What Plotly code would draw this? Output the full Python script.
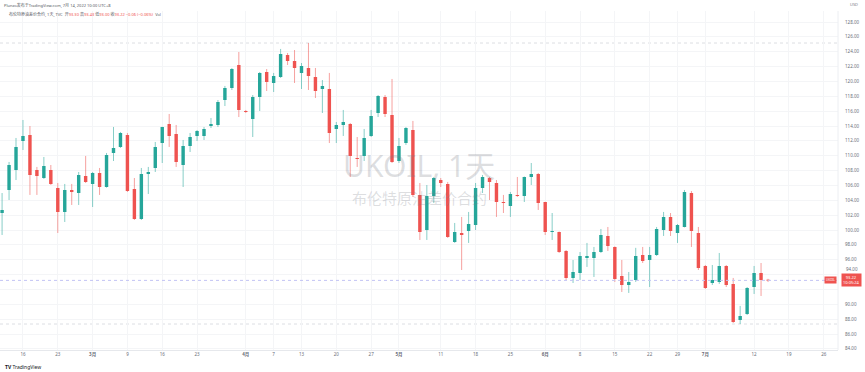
import plotly.graph_objects as go

# ---------------- data ----------------
opens = [102.29, 105.39, 108.08, 111.98, 112.79, 108.08, 107.00, 108.08, 105.66, 102.43,
         105.39, 104.98, 107.27, 106.20, 107.68, 105.79, 110.37, 111.18, 112.79, 105.52,
         101.49, 107.54, 108.35, 111.71, 114.27, 112.93, 108.75, 111.31, 112.66, 112.66,
         114.00, 114.14, 117.50, 119.12, 122.21, 116.02, 114.94, 117.91, 121.27, 119.79,
         120.60, 123.56, 122.75, 121.14, 121.81, 120.60, 118.98, 118.98, 113.60, 114.14,
         114.27, 109.70, 109.97, 112.66, 115.75, 117.91, 115.48, 109.29, 111.71, 113.46,
         104.72, 100.00, 104.58, 106.73, 106.20, 98.39, 99.60, 99.87, 100.68, 105.66,
         107.00, 106.33, 103.77, 103.24, 104.72, 104.58, 107.14, 107.54, 103.77, 99.74,
         99.74, 97.18, 93.55, 94.22, 96.24, 96.24, 97.04, 99.20, 97.72, 93.81,
         92.60, 93.28, 96.64, 95.97, 96.64, 100.00, 101.76, 99.60, 100.41, 104.98,
         99.60, 95.16, 92.87, 93.01, 95.16, 92.74, 87.89, 88.70, 92.33, 94.22,
         93.30]
highs = [104.98, 109.16, 112.39, 114.81, 114.00, 108.49, 109.83, 108.75, 106.33, 106.20,
         106.20, 107.81, 109.97, 107.81, 108.35, 110.37, 113.87, 113.20, 113.06, 107.00,
         108.35, 108.49, 111.85, 113.90, 115.62, 114.14, 112.12, 113.06, 113.46, 113.87,
         115.08, 117.50, 119.39, 121.81, 123.96, 116.16, 118.17, 121.27, 121.67, 121.14,
         124.37, 123.83, 124.23, 122.48, 125.17, 121.81, 120.19, 121.14, 114.54, 116.16,
         114.41, 112.52, 113.60, 116.16, 118.17, 118.17, 120.33, 112.39, 113.87, 114.68,
         106.33, 106.06, 107.14, 107.00, 106.47, 100.95, 101.76, 102.43, 106.33, 107.41,
         107.14, 106.73, 104.72, 105.12, 107.14, 107.20, 109.02, 107.68, 103.80, 102.29,
         99.80, 97.31, 95.97, 97.04, 98.26, 97.72, 100.14, 100.41, 97.80, 95.97,
         94.35, 97.60, 97.72, 97.72, 100.41, 102.43, 102.29, 100.81, 105.39, 105.25,
         100.41, 95.29, 95.29, 96.91, 95.29, 93.55, 89.78, 92.33, 95.16, 95.56,
         93.43]
lows = [99.33, 104.04, 106.73, 110.77, 104.72, 104.72, 106.87, 106.06, 99.60, 101.08,
        103.37, 103.37, 106.33, 103.10, 104.72, 105.70, 109.29, 111.04, 105.12, 101.35,
        101.35, 104.85, 107.81, 109.02, 111.18, 108.49, 105.79, 110.50, 111.98, 112.12,
        113.73, 113.87, 116.69, 118.85, 115.21, 115.75, 112.52, 116.02, 118.71, 118.58,
        120.46, 122.21, 119.79, 118.98, 118.85, 117.77, 115.75, 111.71, 111.71, 112.66,
        107.14, 108.49, 109.29, 112.52, 115.21, 115.21, 109.02, 109.02, 111.45, 104.45,
        98.66, 98.66, 103.64, 105.79, 98.93, 98.26, 94.62, 98.26, 100.00, 104.98,
        104.04, 101.76, 102.29, 101.76, 104.45, 103.77, 106.06, 102.70, 99.33, 98.66,
        96.91, 93.28, 92.87, 93.28, 95.03, 93.68, 96.91, 97.18, 93.01, 91.66,
        91.53, 93.01, 95.56, 92.33, 96.51, 99.20, 99.20, 98.26, 100.35, 97.72,
        94.62, 92.06, 92.60, 92.74, 92.33, 87.49, 87.35, 88.56, 91.39, 91.12,
        93.00]
closes = [102.70, 108.75, 111.18, 112.66, 107.41, 107.27, 108.62, 106.20, 102.43, 105.39,
          105.12, 107.41, 106.47, 107.68, 105.79, 110.10, 111.04, 113.06, 105.25, 101.49,
          107.54, 107.81, 111.18, 113.87, 112.66, 109.16, 111.31, 112.52, 113.33, 113.60,
          114.27, 117.23, 119.12, 121.67, 116.16, 115.89, 117.91, 121.14, 119.92, 120.73,
          123.69, 122.75, 121.81, 122.08, 120.73, 118.71, 119.39, 113.06, 114.14, 114.54,
          109.97, 109.56, 112.39, 115.35, 118.04, 115.62, 109.16, 111.31, 113.73, 104.72,
          99.74, 104.58, 107.00, 106.33, 99.06, 99.74, 99.33, 100.81, 105.66, 107.14,
          106.47, 103.77, 103.64, 104.85, 104.58, 107.14, 107.54, 103.64, 99.74, 99.87,
          97.04, 93.55, 94.35, 96.51, 96.51, 97.04, 99.33, 97.85, 93.41, 92.60,
          93.01, 96.51, 95.83, 96.64, 100.14, 101.76, 99.87, 100.68, 105.12, 99.87,
          94.89, 92.20, 93.28, 95.16, 92.60, 87.62, 88.43, 92.20, 94.22, 93.28,
          93.22]

# date-axis labels (candle index where each label sits)
date_tick_idx = [3, 8, 13, 18, 23, 28, 35, 39, 43, 48, 53, 57, 63, 68, 73, 78, 83, 88, 93, 97, 101, 108, 113, 118]
date_tick_text = ["16", "23", "3月", "9", "16", "23", "4月", "7", "13", "20", "27", "5月",
                  "11", "18", "25", "6月", "8", "15", "22", "29", "7月", "12", "19", "26"]
price_ticks = list(range(84, 129, 2))
hidden_price_ticks = [92, 94]   # covered by the last-price label on the scale

UP = "#26a69a"
DOWN = "#ef5350"
CJK = "Noto Sans, Noto Sans CJK SC, sans-serif"

xs = list(range(len(opens)))

# wicks
def wick_xy(cond):
    wx, wy = [], []
    for i, o, h, l, c in zip(xs, opens, highs, lows, closes):
        if cond(o, c):
            wx += [i, i, None]
            wy += [l, h, None]
    return wx, wy

ux, uy = wick_xy(lambda o, c: c >= o)
dx, dy = wick_xy(lambda o, c: c < o)

fig = go.Figure()
fig.add_trace(go.Scatter(x=ux, y=uy, mode="lines", line=dict(color="rgba(38,166,154,0.55)", width=1),
                         hoverinfo="skip", showlegend=False))
fig.add_trace(go.Scatter(x=dx, y=dy, mode="lines", line=dict(color="rgba(239,83,80,0.55)", width=1),
                         hoverinfo="skip", showlegend=False))
fig.add_trace(go.Candlestick(
    x=xs, open=opens, high=highs, low=lows, close=closes,
    increasing=dict(fillcolor=UP, line=dict(color=UP, width=0)),
    decreasing=dict(fillcolor=DOWN, line=dict(color=DOWN, width=0)),
    showlegend=False, hoverinfo="skip"))

last = closes[-1]
hi = max(highs)
lo = min(lows)

shapes = [
    dict(type="line", xref="paper", x0=0, x1=1, yref="y", y0=hi, y1=hi,
         line=dict(color="#dcdee3", width=1, dash="dot"), layer="below"),
    dict(type="line", xref="paper", x0=0, x1=1, yref="y", y0=lo, y1=lo,
         line=dict(color="#dcdee3", width=1, dash="dot"), layer="below"),
    dict(type="line", xref="paper", x0=0, x1=1, yref="y", y0=last, y1=last,
         line=dict(color="#c2c3f4", width=1, dash="dot")),
    dict(type="line", xref="paper", x0=1, x1=1, yref="paper", y0=0, y1=1,
         line=dict(color="#eceef2", width=1)),
]

red_vals = '<span style="color:#ef5350">'
header2 = ('布伦特原油差价合约, 1天, TVC  开' + red_vals + '93.30</span> 高' + red_vals + '93.43</span> 低'
           + red_vals + '93.00</span> 收' + red_vals + '93.22 −0.06 (−0.06%)</span>  Vol')

annotations = [
    dict(text="UKOIL, 1天", xref="paper", yref="paper", x=0.5, y=0.545, showarrow=False,
         font=dict(size=30, color="rgba(120,123,134,0.25)", family=CJK), xanchor="center", yanchor="middle"),
    dict(text="布伦特原油差价合约", xref="paper", yref="paper", x=0.5, y=0.448, showarrow=False,
         font=dict(size=15, color="rgba(120,123,134,0.25)", family=CJK), xanchor="center", yanchor="middle"),
    dict(text="Plunzo发布于TradingView.com, 7月 14, 2022 10:00 UTC+8", xref="paper", yref="paper",
         x=0.002, y=1.018, showarrow=False, xanchor="left", yanchor="middle",
         font=dict(size=4, color="#555862", family=CJK)),
    dict(text=header2, xref="paper", yref="paper", x=0.008, y=0.991, showarrow=False,
         xanchor="left", yanchor="middle", font=dict(size=4, color="#555862", family=CJK)),
    dict(text="USD", xref="paper", yref="paper", x=1.012, y=1.02, showarrow=False,
         xanchor="left", yanchor="middle", font=dict(size=4, color="#787b86", family=CJK)),
    dict(text=f"{last:.2f}<br>10:05:24", xref="paper", yref="y", x=1.004, y=last, showarrow=False,
         xanchor="left", yanchor="middle", bgcolor=DOWN, borderpad=1,
         font=dict(size=4, color="white", family=CJK)),
    dict(text="UKOIL", xref="paper", yref="y", x=0.999, y=last, showarrow=False,
         xanchor="right", yanchor="middle", bgcolor=DOWN, borderpad=1,
         font=dict(size=3, color="white", family=CJK)),
    dict(text=f"{hidden_price_ticks[1]:.2f}", xref="paper", yref="y", x=1.007, y=hidden_price_ticks[1],
         yshift=6, showarrow=False, xanchor="left", yanchor="middle",
         font=dict(size=4.5, color="#6a6d78", family=CJK)),
    dict(text="<b>TV</b> TradingView", xref="paper", yref="paper", x=0.004, y=-0.05, showarrow=False,
         xanchor="left", yanchor="middle", font=dict(size=5, color="#131722", family=CJK)),
]

tick_text_x = [f"<b>{t}</b>" if t.endswith("月") else t for t in date_tick_text]
tick_text_y = ["" if v in hidden_price_ticks else f"{v:.2f}" for v in price_ticks]

fig.update_layout(
    width=865, height=372,
    margin=dict(l=0, r=27, t=11, b=22),
    paper_bgcolor="white", plot_bgcolor="white",
    font=dict(family=CJK),
    showlegend=False, hovermode=False,
    shapes=shapes, annotations=annotations,
    xaxis=dict(range=[-0.3, 120.05], tickvals=date_tick_idx, ticktext=tick_text_x,
               showgrid=True, gridcolor="#f4f5f7", gridwidth=1, zeroline=False,
               showline=True, linecolor="#e6e8ec", ticks="", rangeslider=dict(visible=False),
               tickfont=dict(size=4.5, color="#6a6d78"), fixedrange=True),
    yaxis=dict(side="right", range=[83.85, 129.48], tickvals=price_ticks,
               ticktext=tick_text_y,
               showgrid=True, gridcolor="#f4f5f7", gridwidth=1, zeroline=False,
               ticks="", ticklabelstandoff=6, tickfont=dict(size=4.5, color="#6a6d78"),
               fixedrange=True),
)

fig.write_html("out.html")
